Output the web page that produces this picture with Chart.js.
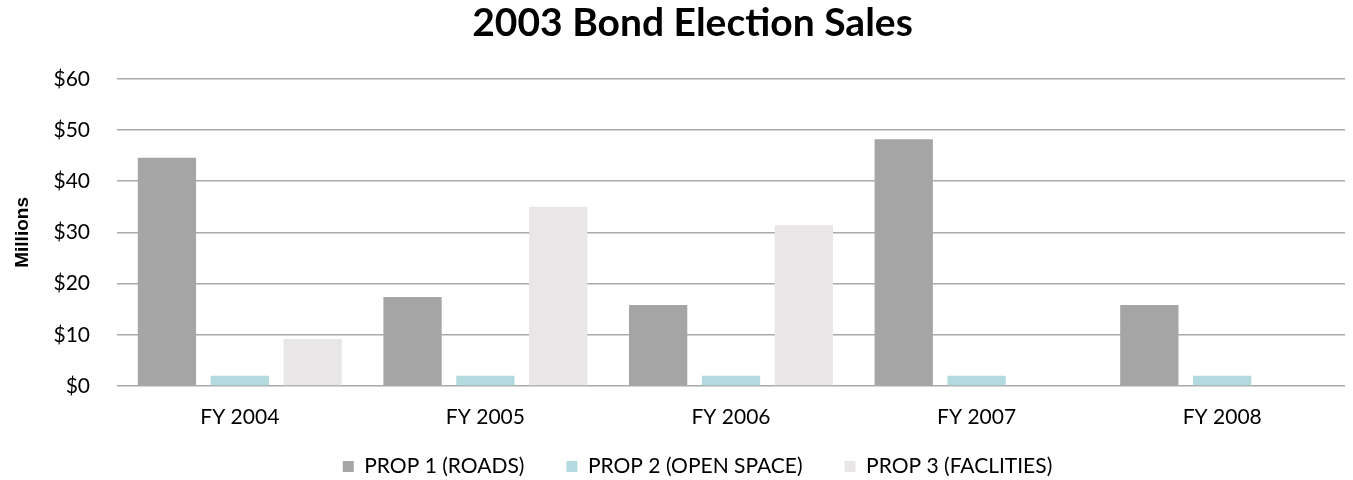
<!DOCTYPE html>
<html>
<head>
<meta charset="utf-8">
<script src="https://cdn.jsdelivr.net/npm/chart.js@4/dist/chart.umd.min.js"></script>
<style>
  html, body { margin: 0; padding: 0; background: #fff; }
  #wrap { width: 1353px; height: 480px; }
</style>
</head>
<body>
<div id="wrap"><canvas id="grafica"></canvas></div>
<script>
const years = ['FY 2004', 'FY 2005', 'FY 2006', 'FY 2007', 'FY 2008'];
const prop1 = [44.6, 17.4, 15.8, 48.2, 15.8];
const prop2 = [2.0, 2.0, 2.0, 2.0, 2.0];
const prop3 = [9.2, 35.0, 31.4, null, null];
const seriesNames = ['PROP 1 (ROADS)', 'PROP 2 (OPEN SPACE)', 'PROP 3 (FACLITIES)'];

const fuente = 'Lato, "Open Sans", sans-serif';

// pequeño ajuste de posicion del titulo y la leyenda
const ajustes = {
    id: 'ajustes',
    beforeInit(chart) {
        const fitOriginal = chart.legend.fit;
        chart.legend.fit = function () {
            fitOriginal.call(this);
            this.height = 51;
        };
    },
    afterLayout(chart) {
        chart.titleBlock.left += 32;
        chart.legend.left += 42;
        chart.legend.top -= 15;
    }
};

const ctx = document.getElementById('grafica').getContext('2d');
const myChart = new Chart(ctx, {
    type: 'bar',
    data: {
        labels: years,
        datasets: [
            { label: seriesNames[0], data: prop1, backgroundColor: '#a5a5a5' },
            { label: seriesNames[1], data: prop2, backgroundColor: '#b3dbdf' },
            { label: seriesNames[2], data: prop3, backgroundColor: '#e8e6e7' }
        ]
    },
    plugins: [ajustes],
    options: {
        responsive: true,
        maintainAspectRatio: false,
        animation: false,
        datasets: {
            bar: { categoryPercentage: 0.89, barPercentage: 0.8 }
        },
        layout: { padding: { left: 8, right: 8, top: 0, bottom: 0 } },
        scales: {
            x: {
                afterFit: s => { s.height = 43; },
                grid: { display: false, drawTicks: false },
                border: { display: false },
                ticks: { color: '#000', font: { family: fuente, size: 21 }, padding: 19 }
            },
            y: {
                min: 0,
                max: 60,
                afterFit: s => { s.width = 109; },
                ticks: {
                    stepSize: 10,
                    color: '#000',
                    padding: 27,
                    font: { family: fuente, size: 21 },
                    callback: v => '$' + v
                },
                grid: { color: '#aaaaaa', lineWidth: 1.5, drawTicks: false },
                border: { display: false },
                title: {
                    display: true,
                    text: 'Millions',
                    color: '#000',
                    font: { family: '"Liberation Sans", Arial, sans-serif', size: 19, weight: 'bold' },
                    padding: { top: 3, bottom: 10 }
                }
            }
        },
        plugins: {
            title: {
                display: true,
                text: '2003 Bond Election Sales',
                color: '#000',
                font: { family: fuente, size: 39, weight: 'bold' },
                padding: { top: 0, bottom: 32 }
            },
            legend: {
                position: 'bottom',
                labels: {
                    color: '#000',
                    boxWidth: 11,
                    boxHeight: 11,
                    padding: 42,
                    font: { family: fuente, size: 21 }
                }
            },
            tooltip: { enabled: false }
        }
    }
});
</script>
</body>
</html>
